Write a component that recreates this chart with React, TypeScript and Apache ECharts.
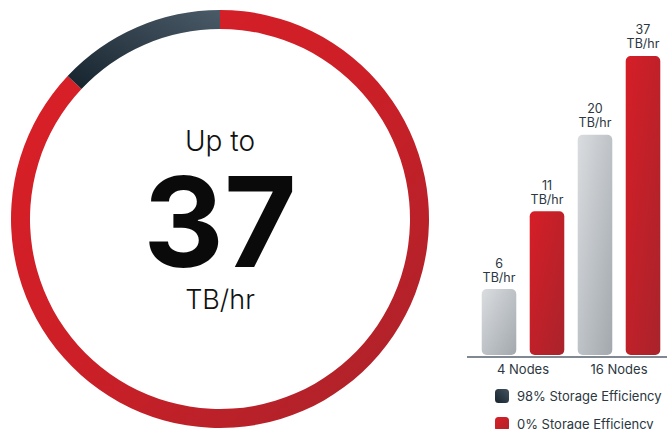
import React, { useEffect, useRef } from "react";
import * as echarts from "echarts";

const categories = ["4 Nodes", "16 Nodes"];
const seriesNames = ["98% Storage Efficiency", "0% Storage Efficiency"];
const efficient98 = [6, 20];
const efficient0 = [11, 37];
const ringValues = [87, 13]; // red share, dark share of the ring
const headline = ["Up to", "37", "TB/hr"];
const unit = "TB/hr";

const FONT = "Inter, 'Noto Sans', sans-serif";
const TEXT = "#2b3741";
const Y_MIN = 3.53;
const Y_MAX = 41.9;

const redRing = new echarts.graphic.LinearGradient(0, 0, 1, 1, [
  { offset: 0, color: "#dc1f27" },
  { offset: 0.5, color: "#cc1f27" },
  { offset: 1, color: "#a8232b" },
]);
const darkRing = new echarts.graphic.LinearGradient(0, 1, 1, 0, [
  { offset: 0, color: "#15232d" },
  { offset: 1, color: "#4a5a67" },
]);
const darkLegend = new echarts.graphic.LinearGradient(0, 1, 1, 0, [
  { offset: 0, color: "#15232d" },
  { offset: 1, color: "#45535f" },
]);
const redLegend = new echarts.graphic.LinearGradient(0, 0, 1, 1, [
  { offset: 0, color: "#d81f27" },
  { offset: 1, color: "#b0222a" },
]);

function grayBar() {
  return new echarts.graphic.LinearGradient(0, 0, 1, 1, [
    { offset: 0, color: "#dadde0" },
    { offset: 1, color: "#a2a8ad" },
  ]);
}
function redBar() {
  return new echarts.graphic.LinearGradient(0, 0, 1, 1, [
    { offset: 0, color: "#d61e27" },
    { offset: 1, color: "#a9232b" },
  ]);
}

function makeRender(offsetFrac: number, fillFn: () => any) {
  return (params: any, api: any) => {
    const cat = api.value(0);
    const val = api.value(1);
    const top = api.coord([cat, val]);
    const base = api.coord([cat, Y_MIN]);
    const bw = api.size([0, 0])[0];
    const w = bw * 0.36;
    const cx = top[0] + bw * offsetFrac;
    const bottom = base[1] - 2;
    return {
      type: "rect",
      shape: { x: cx - w / 2, y: top[1], width: w, height: bottom - top[1], r: 5 },
      style: { fill: fillFn() },
      textContent: {
        style: {
          text: `${val}\n${unit}`,
          fill: TEXT,
          font: `400 12.5px ${FONT}`,
          align: "center",
          lineHeight: 14,
        },
      },
      textConfig: { position: "top", distance: 5 },
    };
  };
}

const legendBase = {
  orient: "vertical",
  left: 495,
  padding: 0,
  itemWidth: 14,
  itemHeight: 14,
  icon: "roundRect",
  selectedMode: false,
  textStyle: { color: TEXT, fontSize: 13, fontFamily: FONT, padding: [0, 0, 0, 3] },
};

export default function App() {
  const ref = useRef<HTMLDivElement>(null);
  useEffect(() => {
    if (!ref.current) return;
    const chart = echarts.init(ref.current, null, { renderer: "svg" });
    chart.setOption({
      animation: false,
      grid: { left: 475, width: 200, top: 40, bottom: 72 },
      xAxis: {
        type: "category",
        data: categories,
        axisLine: { show: false },
        axisTick: { show: false },
        axisLabel: { color: TEXT, fontSize: 13, fontFamily: FONT, margin: 5 },
      },
      yAxis: { type: "log", min: Y_MIN, max: Y_MAX, show: false },
      legend: [
        {
          ...legendBase,
          top: 389,
          data: [{ name: seriesNames[0], itemStyle: { color: darkLegend } }],
        },
        {
          ...legendBase,
          top: 417,
          data: [{ name: seriesNames[1], itemStyle: { color: redLegend } }],
        },
      ],
      graphic: [
        {
          type: "line",
          shape: { x1: 467, y1: 357, x2: 667, y2: 357 },
          style: { stroke: "#56626c", lineWidth: 1.5 },
          silent: true,
        },
        {
          type: "text",
          x: 220,
          y: 141,
          style: { text: headline[0], font: `300 28px ${FONT}`, fill: "#111", align: "center", verticalAlign: "middle" },
        },
        {
          type: "text",
          x: 220,
          y: 221,
          style: {
            text: headline[1],
            font: `700 125px ${FONT}`,
            lineHeight: 100,
            fill: "#0a0a0a",
            align: "center",
            verticalAlign: "middle",
          },
        },
        {
          type: "text",
          x: 220,
          y: 299,
          style: { text: headline[2], font: `300 27px ${FONT}`, fill: "#111", align: "center", verticalAlign: "middle" },
        },
      ],
      series: [
        {
          type: "pie",
          center: [220, 219],
          radius: [190, 209],
          startAngle: 90,
          clockwise: true,
          silent: true,
          label: { show: false },
          labelLine: { show: false },
          emphasis: { disabled: true },
          data: [
            { value: ringValues[0], name: "ring-red", itemStyle: { color: redRing } },
            { value: ringValues[1], name: "ring-dark", itemStyle: { color: darkRing } },
          ],
        },
        {
          type: "custom",
          name: seriesNames[0],
          itemStyle: { color: "#c4c8cc" },
          renderItem: makeRender(-0.25, grayBar),
          encode: { x: 0, y: 1 },
          data: efficient98.map((v, i) => [i, v]),
          silent: true,
        },
        {
          type: "custom",
          name: seriesNames[1],
          itemStyle: { color: "#c8202a" },
          renderItem: makeRender(0.25, redBar),
          encode: { x: 0, y: 1 },
          data: efficient0.map((v, i) => [i, v]),
          silent: true,
        },
      ],
    });
    return () => chart.dispose();
  }, []);
  return <div ref={ref} style={{ width: 667, height: 429, position: "absolute", left: 0, top: 0 }} />;
}
